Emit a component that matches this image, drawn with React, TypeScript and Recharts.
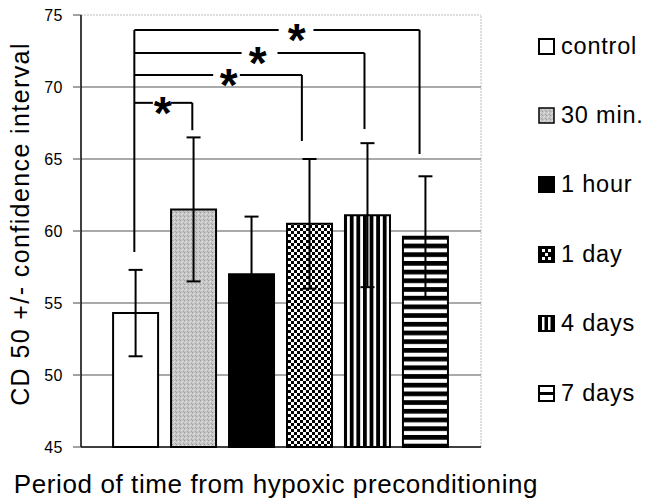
import React from 'react';
import {
  BarChart,
  Bar,
  XAxis,
  YAxis,
  CartesianGrid,
  ErrorBar,
  Cell,
  ReferenceLine,
  ReferenceDot,
  Legend,
} from 'recharts';

// ---- data ----
const groups = ['control', '30 min.', '1 hour', '1 day', '4 days', '7 days'];
const groupPos = [1, 2, 3, 4, 5, 6];
const cd50 = [54.3, 61.5, 57.0, 60.5, 61.1, 59.6];
const ci = [3.0, 5.0, 4.0, 4.5, 5.0, 4.2];
const yTicks = [45, 50, 55, 60, 65, 70, 75];
const gridValues = [50, 55, 60, 65, 70];

// significance brackets (control vs. group)
const controlLineX = 0.97;
const controlLineBottom = 58.54;
const bracketToX = [1.97, 3.86, 4.94, 5.89];
const bracketY = [68.9, 70.83, 72.36, 73.96];
const bracketDropY = [67.0, 66.25, 67.08, 65.35];
const starX = [1.46, 2.6, 3.1, 3.77];
const gapLeftX = [1.29, 2.33, 2.82, 3.46];
const gapRightX = [1.6, 2.79, 3.44, 4.06];

const data = groups.map((g, i) => ({ name: g, x: groupPos[i], value: cd50[i], err: ci[i] }));

const fills = ['#ffffff', 'url(#stipple)', '#000000', 'url(#checker)', 'url(#vstripe)', 'url(#hstripe)'];
const FONT = '"Liberation Sans", Arial, sans-serif';

const Star = (props: any) => {
  const { cx, cy } = props;
  return (
    <text x={cx} y={cy + 26} textAnchor="middle" fontSize={46} fontWeight="bold" fontFamily={FONT} fill="#000">
      *
    </text>
  );
};

const Swatch = ({ i }: { i: number }) => {
  const s = 17;
  if (i === 0) return <rect x={1} y={1} width={s - 2} height={s - 2} fill="#fff" stroke="#000" strokeWidth={2} />;
  if (i === 1) return <rect x={1} y={1} width={s - 2} height={s - 2} fill="url(#stipple)" stroke="#000" strokeWidth={1.5} />;
  if (i === 2) return <rect x={0} y={0} width={s} height={s} fill="#000" />;
  if (i === 3)
    return (
      <g>
        <rect x={0} y={0} width={s} height={s} fill="#000" />
        <rect x={4} y={3} width={3} height={3} fill="#fff" />
        <rect x={10} y={3} width={3} height={3} fill="#fff" />
        <rect x={7} y={7} width={3} height={3} fill="#fff" />
        <rect x={4} y={11} width={3} height={3} fill="#fff" />
        <rect x={10} y={11} width={3} height={3} fill="#fff" />
      </g>
    );
  if (i === 4)
    return (
      <g>
        <rect x={0} y={0} width={s} height={s} fill="#000" />
        <rect x={4} y={2} width={2.5} height={13} fill="#fff" />
        <rect x={10} y={2} width={2.5} height={13} fill="#fff" />
      </g>
    );
  return (
    <g>
      <rect x={0} y={0} width={s} height={s} fill="#000" />
      <rect x={2} y={2} width={13} height={5} fill="#fff" />
      <rect x={2} y={10} width={13} height={5} fill="#fff" />
    </g>
  );
};

const renderLegend = () => (
  <div style={{ position: 'relative', width: 168, height: 430 }}>
    {groups.map((g, i) => (
      <div
        key={g}
        style={{
          position: 'absolute',
          left: 57,
          top: 46 + i * 69.4 - 14,
          height: 28,
          display: 'flex',
          alignItems: 'center',
          whiteSpace: 'nowrap',
        }}
      >
        <svg width={17} height={17} style={{ display: 'block' }}>
          <Swatch i={i} />
        </svg>
        <span style={{ marginLeft: 6, fontSize: 23.5, letterSpacing: 0.8, fontFamily: FONT, color: '#000' }}>{g}</span>
      </div>
    ))}
  </div>
);

export default function App() {
  return (
    <div style={{ position: 'absolute', left: 0, top: 0, width: 649, height: 499, background: '#fff', fontFamily: FONT }}>
      <BarChart width={649} height={499} data={data} margin={{ top: 15, right: 0, bottom: 0, left: 0 }}>
        <defs>
          <pattern id="stipple" patternUnits="userSpaceOnUse" width={4} height={4}>
            <rect width={4} height={4} fill="#c6c6c6" />
            <rect x={0} y={0} width={1} height={1} fill="#9a9a9a" />
            <rect x={2} y={1} width={1} height={1} fill="#e4e4e4" />
            <rect x={3} y={3} width={1} height={1} fill="#a8a8a8" />
            <rect x={1} y={2} width={1} height={1} fill="#dadada" />
          </pattern>
          <pattern id="checker" patternUnits="userSpaceOnUse" width={6} height={6}>
            <rect width={6} height={6} fill="#fff" />
            <rect x={0} y={0} width={3} height={3} fill="#000" />
            <rect x={3} y={3} width={3} height={3} fill="#000" />
          </pattern>
          <pattern id="vstripe" patternUnits="userSpaceOnUse" width={6.6} height={10}>
            <rect width={6.6} height={10} fill="#fff" />
            <rect x={0} y={0} width={3.8} height={10} fill="#000" />
          </pattern>
          <pattern id="hstripe" patternUnits="userSpaceOnUse" width={10} height={8.7}>
            <rect width={10} height={8.7} fill="#fff" />
            <rect x={0} y={0} width={10} height={4.7} fill="#000" />
          </pattern>
        </defs>
        <CartesianGrid vertical={false} horizontalValues={gridValues} stroke="#555" strokeWidth={1} />
        <XAxis
          type="number"
          dataKey="x"
          domain={[0.05, 6.95]}
          allowDataOverflow
          tick={false}
          tickLine={false}
          axisLine={{ stroke: '#000', strokeWidth: 1.5 }}
          height={52}
          label={(p: any) => {
            const vb = p.viewBox || { x: 81, y: 447, width: 400 };
            return (
              <text x={vb.x + vb.width / 2 - 5} y={vb.y + 46} textAnchor="middle" fontSize={26} letterSpacing={0.6} fontFamily={FONT} fill="#000">
                Period of time from hypoxic preconditioning
              </text>
            );
          }}
        />
        <YAxis
          type="number"
          domain={[45, 75]}
          ticks={yTicks}
          width={81}
          interval={0}
          tickSize={8}
          tickMargin={10}
          tickLine={{ stroke: '#444' }}
          axisLine={{ stroke: '#000', strokeWidth: 1.5 }}
          tick={{ fontSize: 16, fill: '#000', fontFamily: FONT, letterSpacing: 0.5 }}
          label={(p: any) => {
            const vb = p.viewBox || { x: 0, y: 15, width: 81, height: 432 };
            const cx = 29;
            const cy = vb.y + vb.height / 2 - 7;
            return (
              <text x={cx} y={cy} transform={`rotate(-90, ${cx}, ${cy})`} textAnchor="middle" fontSize={25} letterSpacing={1.4} fontFamily={FONT} fill="#000">
                CD 50 +/- confidence interval
              </text>
            );
          }}
        />
        <ReferenceLine y={75} stroke="#bbb" strokeDasharray="2 1" />
        <ReferenceLine x={6.95} stroke="#bbb" strokeDasharray="2 1" />
        <Bar dataKey="value" barSize={45} stroke="#000" strokeWidth={2} isAnimationActive={false}>
          {data.map((d, i) => (
            <Cell key={d.name} fill={fills[i]} />
          ))}
          <ErrorBar dataKey="err" width={7} stroke="#000" strokeWidth={2} direction="y" />
        </Bar>
        <ReferenceLine
          segment={[
            { x: controlLineX, y: controlLineBottom },
            { x: controlLineX, y: bracketY[3] },
          ]}
          stroke="#000"
          strokeWidth={2}
        />
        {bracketY.map((by, i) => (
          <ReferenceLine
            key={`l${i}`}
            segment={[
              { x: controlLineX, y: by },
              { x: gapLeftX[i], y: by },
            ]}
            stroke="#000"
            strokeWidth={2}
          />
        ))}
        {bracketY.map((by, i) => (
          <ReferenceLine
            key={`r${i}`}
            segment={[
              { x: gapRightX[i], y: by },
              { x: bracketToX[i], y: by },
            ]}
            stroke="#000"
            strokeWidth={2}
          />
        ))}
        {bracketY.map((by, i) => (
          <ReferenceLine
            key={`d${i}`}
            segment={[
              { x: bracketToX[i], y: by },
              { x: bracketToX[i], y: bracketDropY[i] },
            ]}
            stroke="#000"
            strokeWidth={2}
          />
        ))}
        {bracketY.map((by, i) => (
          <ReferenceDot key={`s${i}`} x={starX[i]} y={by} r={0} shape={<Star />} />
        ))}
        <Legend layout="vertical" align="right" verticalAlign="top" wrapperStyle={{ width: 168, height: 430, top: 0, right: 0 }} content={renderLegend} />
      </BarChart>
    </div>
  );
}
